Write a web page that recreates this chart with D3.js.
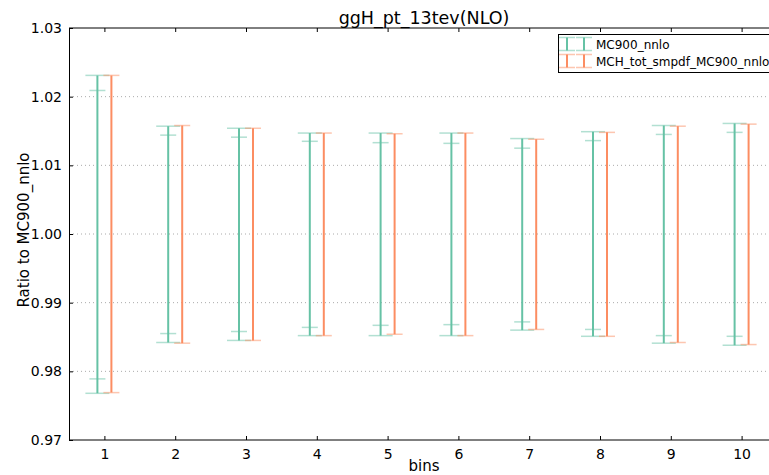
<!DOCTYPE html>
<html>
<head>
<meta charset="utf-8">
<script src="https://cdn.jsdelivr.net/npm/d3@7"></script>
<style>
  body { margin: 0; background: #fff; }
  svg { display: block; font-family: "DejaVu Sans", sans-serif; }
</style>
</head>
<body>
<svg id="chart" width="769" height="475"></svg>
<script>
// data
var bins = [1, 2, 3, 4, 5, 6, 7, 8, 9, 10];
var yTicks = [0.97, 0.98, 0.99, 1.00, 1.01, 1.02, 1.03];

// MC900_nnlo, outer band (wide caps)
var mcOuterHi = [1.0231, 1.0157, 1.0154, 1.0147, 1.0147, 1.0147, 1.0139, 1.0149, 1.0158, 1.0161];
var mcOuterLo = [0.9768, 0.9842, 0.9845, 0.9852, 0.9852, 0.9852, 0.9860, 0.9851, 0.9841, 0.9838];
// MC900_nnlo, inner band (narrow caps)
var mcInnerHi = [1.0209, 1.0144, 1.0141, 1.0135, 1.0133, 1.0132, 1.0125, 1.0136, 1.0145, 1.0148];
var mcInnerLo = [0.9789, 0.9855, 0.9858, 0.9864, 0.9867, 0.9868, 0.9872, 0.9861, 0.9852, 0.9851];
// MCH_tot_smpdf_MC900_nnlo
var smHi = [1.0231, 1.0158, 1.0154, 1.0147, 1.0146, 1.0147, 1.0138, 1.0148, 1.0157, 1.0160];
var smLo = [0.9769, 0.9841, 0.9845, 0.9852, 0.9854, 0.9852, 0.9861, 0.9851, 0.9842, 0.9839];

var green = '#66c2a5', orange = '#fc8d62';

var svg = d3.select('#chart');
var margin = {left: 69, top: 28, bottom: 440};
var x = d3.scaleLinear().domain([0.5, 10.5]).range([margin.left, margin.left + 708]);
var y = d3.scaleLinear().domain([0.97, 1.03]).range([margin.bottom, margin.top]);

// grid
svg.append('g').selectAll('line').data(yTicks.slice(1, -1)).enter().append('line')
  .attr('x1', x(0.5)).attr('x2', 769)
  .attr('y1', function(d){ return y(d); }).attr('y2', function(d){ return y(d); })
  .attr('stroke', '#aaa').attr('stroke-width', 1).attr('stroke-dasharray', '1,3');

// axes (ticks inward, like the matplotlib classic style)
var yAxis = d3.axisLeft(y).tickValues(yTicks).tickFormat(d3.format('.2f')).tickSize(-4).tickPadding(7);
var xAxis = d3.axisBottom(x).tickValues(bins).tickFormat(d3.format('d')).tickSize(-4).tickPadding(9);

var gy = svg.append('g').attr('transform', 'translate(' + margin.left + ',0)').call(yAxis);
var gx = svg.append('g').attr('transform', 'translate(0,' + margin.bottom + ')').call(xAxis);
var gt = svg.append('g').attr('transform', 'translate(0,' + margin.top + ')')
  .call(d3.axisTop(x).tickValues(bins).tickFormat('').tickSize(-4));
[gy, gx, gt].forEach(function(g){
  g.attr('font-family', null).attr('font-size', null);
  g.select('.domain').attr('stroke', '#000');
  g.selectAll('.tick line').attr('stroke', '#000');
  g.selectAll('.tick text').attr('fill', '#000').style('font-size', '14px');
});
gx.select('.domain').attr('d', 'M' + x(0.5) + ',0H780');
gt.select('.domain').attr('d', 'M' + x(0.5) + ',0H780');

// error bars
function errorBars(cls, hi, lo, dx, capW, color, drawLine) {
  var g = svg.append('g').attr('class', cls);
  var items = g.selectAll('g').data(bins).enter().append('g');
  if (drawLine) {
    items.append('line')
      .attr('x1', function(d){ return x(d) + dx; }).attr('x2', function(d){ return x(d) + dx; })
      .attr('y1', function(d, i){ return y(hi[i]); }).attr('y2', function(d, i){ return y(lo[i]); })
      .attr('stroke', color).attr('stroke-width', 2);
  }
  [hi, lo].forEach(function(arr){
    items.append('line')
      .attr('x1', function(d){ return x(d) + dx - capW / 2; })
      .attr('x2', function(d){ return x(d) + dx + capW / 2; })
      .attr('y1', function(d, i){ return y(arr[i]); }).attr('y2', function(d, i){ return y(arr[i]); })
      .attr('stroke', color).attr('stroke-width', 1.5).attr('stroke-opacity', 0.5);
  });
}
errorBars('mc-outer', mcOuterHi, mcOuterLo, -7, 24, green, true);
errorBars('mc-inner', mcInnerHi, mcInnerLo, -7, 16, green, false);
errorBars('smpdf', smHi, smLo, 7, 16, orange, true);

// texts
svg.append('text').attr('x', 424).attr('y', 24).attr('text-anchor', 'middle')
  .style('font-size', '17.5px').text('ggH_pt_13tev(NLO)');
svg.append('text').attr('x', 424).attr('y', 471).attr('text-anchor', 'middle')
  .style('font-size', '15px').text('bins');
svg.append('text').attr('transform', 'translate(29,230) rotate(-90)').attr('text-anchor', 'middle')
  .style('font-size', '15px').text('Ratio to MC900_nnlo');

// legend
var legend = svg.append('g');
legend.append('rect').attr('x', 558.5).attr('y', 34.5).attr('width', 220).attr('height', 38)
  .attr('fill', '#fff').attr('stroke', '#000').attr('stroke-width', 1);
var legendItems = [{name: 'MC900_nnlo', color: green}, {name: 'MCH_tot_smpdf_MC900_nnlo', color: orange}];
legendItems.forEach(function(item, i){
  var cy = 44 + i * 17;
  [567, 584].forEach(function(lx){
    legend.append('line').attr('x1', lx).attr('x2', lx).attr('y1', cy - 6.5).attr('y2', cy + 6.5)
      .attr('stroke', item.color).attr('stroke-width', 2);
    [cy - 6.5, cy + 6.5].forEach(function(cyy){
      legend.append('line').attr('x1', lx - 8).attr('x2', lx + 8).attr('y1', cyy).attr('y2', cyy)
        .attr('stroke', item.color).attr('stroke-width', 1.5).attr('stroke-opacity', 0.5);
    });
  });
  legend.append('text').attr('x', 596).attr('y', cy + 4.5).style('font-size', '12px').text(item.name);
});
</script>
</body>
</html>
